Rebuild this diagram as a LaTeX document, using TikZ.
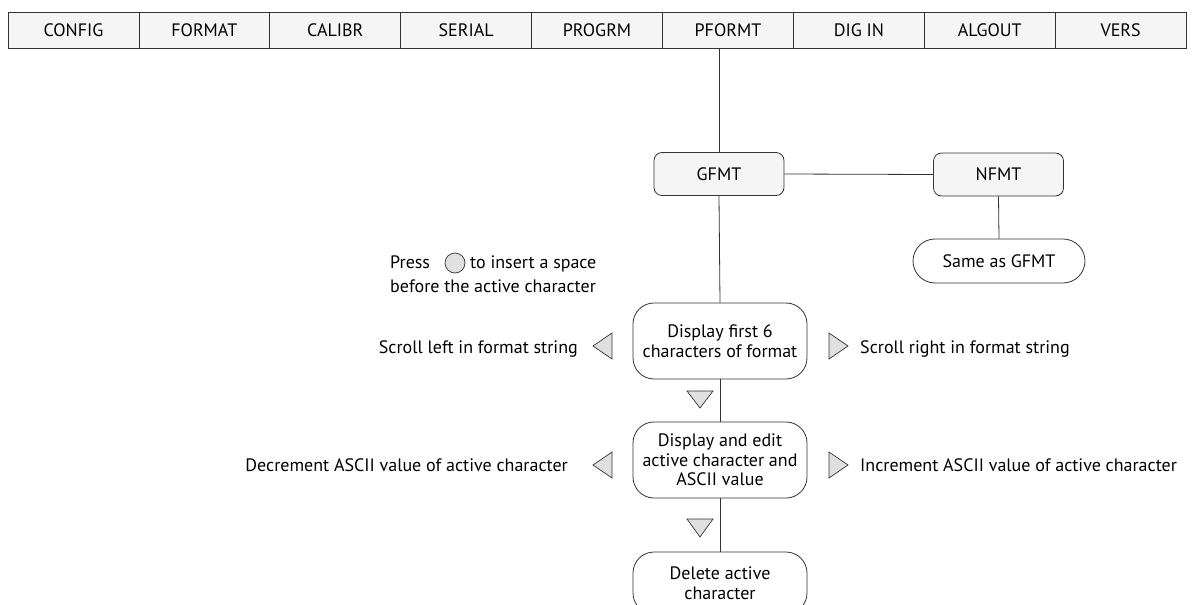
\documentclass[tikz,border=0pt]{standalone}
\usepackage{fontspec}
\setmainfont{PT Sans}
\usepackage{tikz}

\begin{document}
\begin{tikzpicture}[x=1pt,y=-1pt,
	menubox/.style={draw=black!80, fill=black!4, line width=.8pt, minimum width=130.9pt, minimum height=36pt, inner sep=0pt, font=\fontsize{18}{20}\selectfont},
	tabbox/.style={draw=black!80, fill=black!4, line width=.8pt, rounded corners=8pt, minimum width=130pt, minimum height=43pt, inner sep=0pt, font=\fontsize{18}{20}\selectfont},
	stepbox/.style={draw=black!80, fill=white, line width=.8pt, rounded corners=21pt, minimum width=174pt, minimum height=76pt, inner sep=0pt, align=center, font=\fontsize{18}{19.5}\selectfont},
	note/.style={inner sep=0pt, font=\fontsize{18}{20}\selectfont},
	key/.style={draw=black!80, fill=black!12, line width=.7pt, line join=miter}]
	\useasboundingbox (0,0) rectangle (1195,605);

	% menu bar
	\foreach \lbl [count=\i] in {CONFIG,FORMAT,CALIBR,SERIAL,PROGRM,PFORMT,DIG IN,ALGOUT,VERS}
		\node[menubox] (menu\i) at (8+130.9*\i-65.45,30) {\lbl};

	% format menus
	\node[tabbox] (gfmt) at (719,174) {GFMT};
	\node[tabbox] (nfmt) at (998.5,174.5) {NFMT};
	\node[stepbox, minimum width=172pt, minimum height=44pt, rounded corners=22pt] (same) at (999,261) {Same as GFMT};

	\node[stepbox] (show) at (720,341) {Display first 6\\characters of format};
	\node[stepbox] (edit) at (720,460) {Display and edit\\active character and\\ASCII value};
	\node[stepbox, minimum height=62pt] (del) at (720,583) {Delete active\\character};

	\draw[line width=.8pt, black!80] (gfmt.north) -- (gfmt.north |- menu6.south);
	\draw[line width=.8pt, black!80] (gfmt.east) -- (nfmt.west);
	\draw[line width=.8pt, black!80] (nfmt.south) -- (same.north);
	\draw[line width=.8pt, black!80] (gfmt.south) -- (show.north);
	\draw[line width=.8pt, black!80] (show.south) -- (edit.north);
	\draw[line width=.8pt, black!80] (edit.south) -- (del.north);

	% keys
	\filldraw[key] (455,263) circle (10);
	\filldraw[key] (612,333) -- (593,346) -- (612,359) -- cycle;
	\filldraw[key] (829,333) -- (848,346) -- (829,359) -- cycle;
	\filldraw[key] (612,452) -- (593,465) -- (612,478) -- cycle;
	\filldraw[key] (829,452) -- (848,465) -- (829,478) -- cycle;
	\filldraw[key] (687,391) -- (713,391) -- (700,408) -- cycle;
	\filldraw[key] (687,519) -- (713,519) -- (700,537) -- cycle;

	% texts
	\node[note, anchor=base west] (press) at (390,268) {Press};
	\node[note, anchor=base west] (insert) at (470,268) {to insert a space};
	\node[note, anchor=base west] (before) at (390,292) {before the active character};
	\node[note, anchor=base east] (left) at (578,353) {Scroll left in format string};
	\node[note, anchor=base west] (right) at (860,353) {Scroll right in format string};
	\node[note, anchor=base east] (decr) at (568,471) {Decrement ASCII value of active character};
	\node[note, anchor=base west] (incr) at (860,471) {Increment ASCII value of active character};
\end{tikzpicture}
\end{document}
